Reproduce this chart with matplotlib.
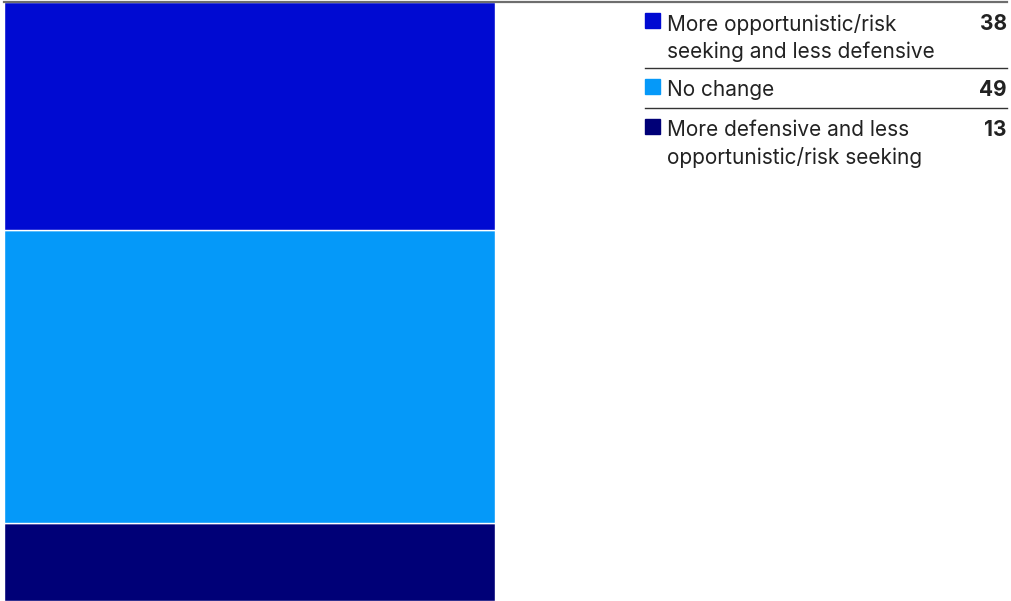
import matplotlib.pyplot as plt
from matplotlib.patches import Rectangle
from matplotlib.lines import Line2D

categorias = ['More opportunistic/risk\nseeking and less defensive',
              'No change',
              'More defensive and less\nopportunistic/risk seeking']
valores = [38, 49, 13]
colores = ['#000AD2', '#0599F9', '#000077']

W, H = 1012, 601
fig = plt.figure(figsize=(W / 100, H / 100), dpi=100)

def fx(px):
    return px / W

def fy(py):
    return 1 - py / H

# barra apilada
ax = fig.add_axes([fx(4), fy(600.5), fx(495) - fx(4), fy(2.5) - fy(600.5)])
base = 0
for v, c in zip(valores[::-1], colores[::-1]):
    ax.bar(0, v, bottom=base, width=1, color=c, edgecolor='white', linewidth=1)
    base += v
ax.set_xlim(-0.5, 0.5)
ax.set_ylim(0, 100)
ax.axis('off')

# linea superior
fig.add_artist(Line2D([fx(4), fx(1007)], [fy(1.5), fy(1.5)], color='#6e6e6e', lw=1.6))

# leyenda
fuente = 'Inter'
tops = [13, 79, 119]
seps = [68, 108]
for cat, v, c, t in zip(categorias, valores, colores, tops):
    fig.add_artist(Rectangle((fx(645), fy(t + 15)), fx(15), fy(t) - fy(t + 15),
                             color=c, transform=fig.transFigure))
    fig.text(fx(667), fy(t + 1), cat, fontsize=15, family=fuente, color='#222222',
             va='top', ha='left', linespacing=1.42)
    fig.text(fx(1007), fy(t + 1), str(v), fontsize=15, family=fuente, color='#222222',
             va='top', ha='right', fontweight='bold')
for s in seps:
    fig.add_artist(Line2D([fx(645), fx(1007)], [fy(s), fy(s)], color='#333333', lw=1.0))

plt.savefig('out.png', dpi=100)
